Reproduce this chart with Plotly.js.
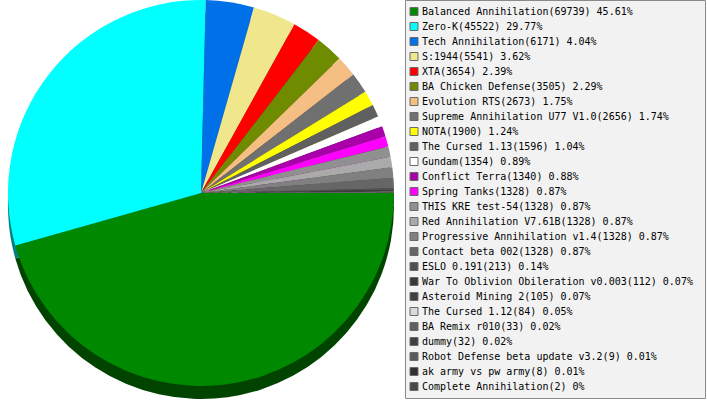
<!DOCTYPE html>
<html>
<head>
<meta charset="utf-8">
<script src="https://cdn.plot.ly/plotly-3.0.1.min.js"></script>
<style>
html,body{margin:0;padding:0;background:#fff;}
#chart{width:707px;height:400px;}
</style>
</head>
<body>
<div id="chart"></div>
<script>
var names = ['Balanced Annihilation','Zero-K','Tech Annihilation','S:1944','XTA','BA Chicken Defense','Evolution RTS','Supreme Annihilation U77 V1.0','NOTA','The Cursed 1.13','Gundam','Conflict Terra','Spring Tanks','THIS KRE test-54','Red Annihilation V7.61B','Progressive Annihilation v1.4','Contact beta 002','ESLO 0.191','War To Oblivion Obileration v0.003','Asteroid Mining 2','The Cursed 1.12','BA Remix r010','dummy','Robot Defense beta update v3.2','ak army vs pw army','Complete Annihilation'];
var counts = [69739,45522,6171,5541,3654,3505,2673,2656,1900,1596,1354,1340,1328,1328,1328,1328,1328,213,112,105,84,33,32,9,8,2];
var percents = [45.61,29.77,4.04,3.62,2.39,2.29,1.75,1.74,1.24,1.04,0.89,0.88,0.87,0.87,0.87,0.87,0.87,0.14,0.07,0.07,0.05,0.02,0.02,0.01,0.01,0];
var colors = ['#008800','#00ffff','#0070e8','#f0e68c','#ff0000','#6f8c00','#f5be82','#707070','#ffff00','#606060','#ffffff','#aa00aa','#ff00ff','#909090','#aaaaaa','#808080','#666666','#505050','#383838','#404040','#d8d8d8','#606060','#404040','#5a5a5a','#303030','#484848'];

function darker(hex){
  var n = parseInt(hex.slice(1),16);
  var r = (n>>16)&255, g=(n>>8)&255, b=n&255;
  function h(v){var s=Math.round(v/2).toString(16);return s.length<2?'0'+s:s;}
  return '#'+h(r)+h(g)+h(b);
}
var shadeColors = colors.map(darker);

var legendLabels = names.map(function(n,i){return n+'('+counts[i]+') '+String(percents[i])+'%';});
var idx = names.map(function(n,i){return i;});

var px0 = 1/707, px1 = 401/707;
var shadowPie = {
  type:'pie', values:counts, labels:names, sort:false, direction:'clockwise', rotation:90,
  marker:{colors:shadeColors, line:{width:0}}, textinfo:'none', hoverinfo:'skip', showlegend:false,
  domain:{x:[px0,px1], y:[0.0025,0.9675]}
};
var topPie = {
  type:'pie', values:counts, labels:names, sort:false, direction:'clockwise', rotation:90,
  marker:{colors:colors, line:{width:0}}, textinfo:'none', hoverinfo:'label+value+percent', showlegend:false,
  domain:{x:[px0,px1], y:[0.035,1]}
};
var legendY = idx.map(function(i){return 11.5+15*i;});
var squares = {
  type:'scatter', mode:'markers', x:idx.map(function(){return 414;}), y:legendY,
  marker:{symbol:'square', size:8, color:colors, line:{color:'#6a6a6a', width:1}},
  hoverinfo:'skip', showlegend:false, xaxis:'x', yaxis:'y'
};
var annotations = legendLabels.map(function(t,i){
  return {x:420, y:legendY[i], xref:'x', yref:'y', text:t, showarrow:false, xanchor:'left', yanchor:'middle',
    font:{family:'DejaVu Sans Mono', size:10, color:'#000'}};
});
var layout = {
  width:707, height:400, margin:{l:0,r:0,t:0,b:0}, paper_bgcolor:'#fff', plot_bgcolor:'rgba(0,0,0,0)',
  xaxis:{range:[0,707], domain:[0,1], visible:false, fixedrange:true},
  yaxis:{range:[400,0], domain:[0,1], visible:false, fixedrange:true},
  shapes:[{type:'rect', xref:'x', yref:'y', x0:405.5, x1:705.5, y0:0.5, y1:398.5, fillcolor:'#f2f2f2', line:{color:'#8a8a8a', width:1}, layer:'below'}],
  annotations:annotations, showlegend:false
};
Plotly.newPlot('chart',[shadowPie, topPie, squares], layout, {displayModeBar:false, staticPlot:true});
</script>
</body>
</html>
